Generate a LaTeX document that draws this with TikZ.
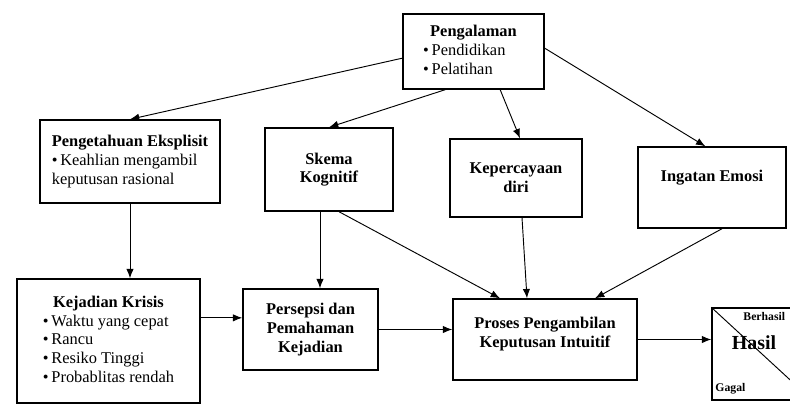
\documentclass[tikz,border=0pt]{standalone}
\usepackage{fontspec}
\setmainfont{Liberation Serif}
\usetikzlibrary{positioning, calc, arrows.meta}

\begin{document}
\begin{tikzpicture}[
      x = 0.03cm, y = -0.03cm,
      -{Latex[length=2.8mm, width=2.2mm]},
      thick,
      font = \fontsize{14}{16}\selectfont,
      box/.style = {draw, very thick, rectangle, inner sep = 2pt, align = center},
      txt/.style = {draw = none, inner sep = 0pt}]

      \useasboundingbox (0,0) rectangle (790,408);

      \node [box, minimum width = 4.23cm, minimum height = 2.25cm] (peng) at (473.5,51.5)
        {\begin{tabular}{@{}l@{}}
          \multicolumn{1}{c}{\textbf{Pengalaman}}\\
          \textbullet\,Pendidikan\\
          \textbullet\,Pelatihan
        \end{tabular}};
      \node [box, minimum width = 5.4cm, minimum height = 2.49cm] (eksp) at (130,161.5)
        {\begin{tabular}{@{}l@{}}
          \textbf{Pengetahuan Eksplisit}\\
          \textbullet\,Keahlian mengambil\\
          keputusan rasional
        \end{tabular}};
      \node [box, minimum width = 3.84cm, minimum height = 2.49cm] (skema) at (329,169.5)
        {\textbf{Skema}\\ \textbf{Kognitif}};
      \node [box, minimum width = 3.96cm, minimum height = 2.34cm] (kep) at (516,178)
        {\textbf{Kepercayaan}\\ \textbf{diri}};
      \node [box, minimum width = 4.44cm, minimum height = 2.43cm] (ingat) at (712,187.5)
        {\textbf{Ingatan Emosi}\\[0.5ex]};
      \node [box, minimum width = 5.49cm, minimum height = 3.72cm] (krisis) at (108.5,341)
        {\begin{tabular}{@{}l@{}}
          \multicolumn{1}{c}{\textbf{Kejadian Krisis}}\\
          \textbullet\,Waktu yang cepat\\
          \textbullet\,Rancu\\
          \textbullet\,Resiko Tinggi\\
          \textbullet\,Probablitas rendah
        \end{tabular}};
      \node [box, minimum width = 4.05cm, minimum height = 2.43cm] (persepsi) at (310.5,329.5)
        {\textbf{Persepsi dan}\\ \textbf{Pemahaman}\\ \textbf{Kejadian}};
      \node [box, minimum width = 5.52cm, minimum height = 2.43cm] (proses) at (545,339.5)
        {\textbf{Proses Pengambilan}\\ \textbf{Keputusan Intuitif}\\[-0.5ex]};

      \begin{scope}
        \clip (0,0) rectangle (790,408);
        \node [box, minimum width = 3.0cm, minimum height = 2.76cm] (hasil) at (762,354) {};
        \draw [-] (hasil.north west) -- (hasil.south east);
        \node [txt, font = \fontsize{17}{19}\selectfont\bfseries] (hasilt) at (754,343) {Hasil};
        \node [txt, font = \fontsize{10}{12}\selectfont\bfseries, anchor = north west] (berhasil) at (743,312) {Berhasil};
        \node [txt, font = \fontsize{10}{12}\selectfont\bfseries, anchor = south west] (gagal) at (715,395) {Gagal};
      \end{scope}

      \draw ([yshift=-0.2cm]peng.west) -- (eksp.north);
      \draw ([xshift=-0.85cm]peng.south) -- (skema.north);
      \draw ([xshift=0.8cm]peng.south) -- ([xshift=0.12cm]kep.north);
      \draw ([yshift=0.1cm]peng.east) -- ([xshift=-0.2cm]ingat.north);
      \draw (eksp.south) -- (eksp.south |- krisis.north);
      \draw ([xshift=-0.27cm]skema.south) -- ([xshift=-0.27cm]skema.south |- persepsi.north);
      \draw ([xshift=0.3cm]skema.south) -- ([xshift=-1.35cm]proses.north);
      \draw ([xshift=0.18cm]kep.south) -- ([xshift=-0.54cm]proses.north);
      \draw ([xshift=0.3cm]ingat.south) -- ([xshift=1.5cm]proses.north);
      \draw ([yshift=0.35cm]persepsi.west -| krisis.east) -- ([yshift=0.35cm]persepsi.west);
      \draw (persepsi.east) -- (persepsi.east -| proses.west);
      \draw (proses.east) -- (proses.east -| hasil.west);
  \end{tikzpicture}
\end{document}
